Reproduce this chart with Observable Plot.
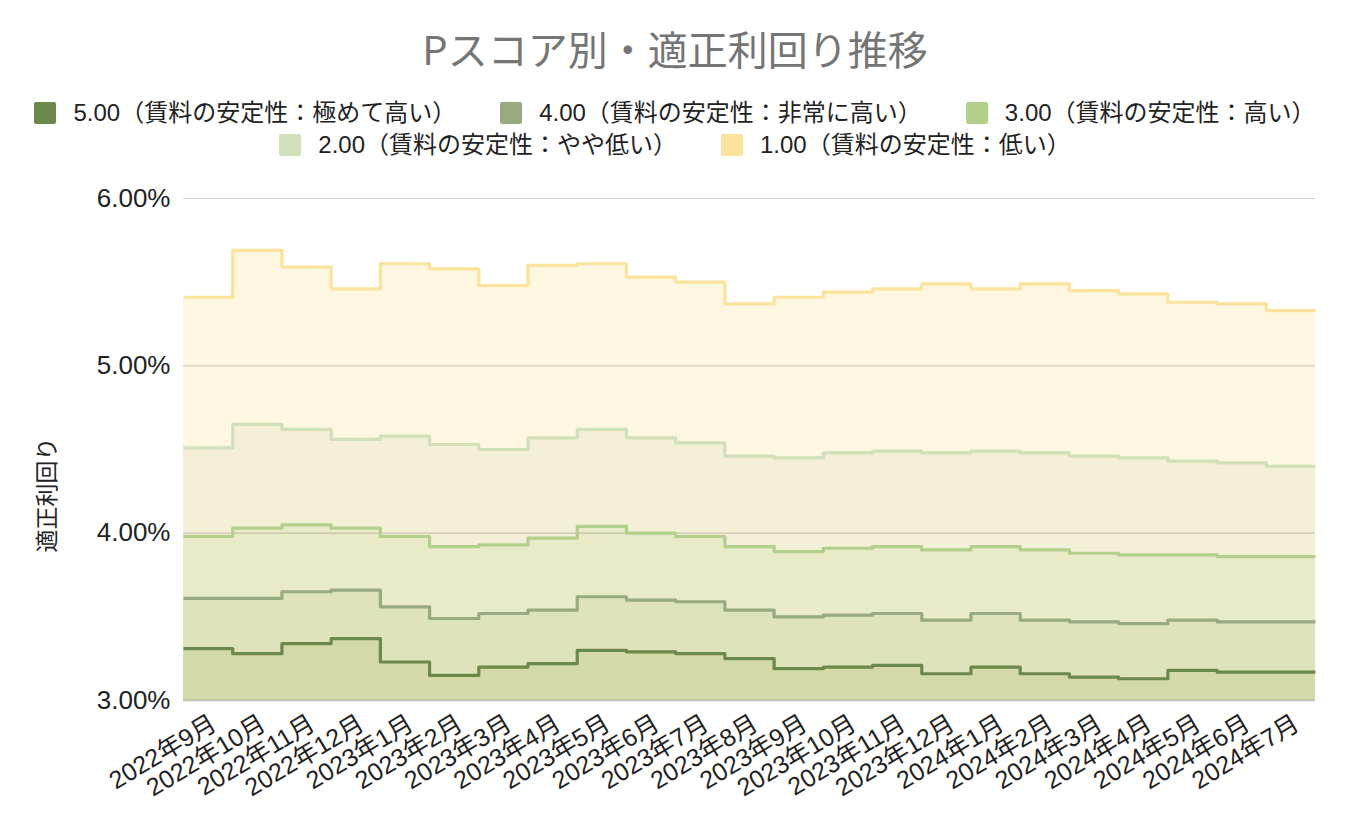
<!DOCTYPE html>
<html>
<head>
<meta charset="utf-8">
<script src="https://cdn.jsdelivr.net/npm/d3@7"></script>
<script src="https://cdn.jsdelivr.net/npm/@observablehq/plot@0.6"></script>
<style>
  html, body { margin: 0; padding: 0; background: #fff; }
  body { width: 1350px; height: 828px; position: relative; overflow: hidden;
         font-family: "Liberation Sans", "Noto Sans CJK JP", sans-serif; }
  #title { position: absolute; top: 22px; left: 0; width: 1350px; text-align: center;
           font-size: 40px; line-height: 52px; color: #757575; font-family: "Noto Sans CJK JP", sans-serif; }
  .row { position: absolute; left: 0; width: 1350px; display: flex; justify-content: center;
         gap: 44px; font-size: 24px; line-height: 30px; color: #222; }
  .item { display: flex; align-items: center; white-space: nowrap; }
  .sw { width: 22px; height: 22px; border-radius: 2px; margin-right: 17px; }
  #chart { position: absolute; left: 0; top: 170px; }
  #ylabel { position: absolute; left: 45px; top: 495px; transform: translate(-50%, -50%) rotate(-90deg);
            font-size: 23px; color: #222; white-space: nowrap; font-family: "Noto Sans CJK JP", sans-serif; }
</style>
</head>
<body>
<div id="title">Pスコア別・適正利回り推移</div>
<div class="row" id="row1" style="top:98px"></div>
<div class="row" id="row2" style="top:130px"></div>
<div id="chart"></div>
<div id="ylabel">適正利回り</div>
<script>
const months = ["2022年9月","2022年10月","2022年11月","2022年12月","2023年1月","2023年2月","2023年3月","2023年4月","2023年5月","2023年6月","2023年7月","2023年8月","2023年9月","2023年10月","2023年11月","2023年12月","2024年1月","2024年2月","2024年3月","2024年4月","2024年5月","2024年6月","2024年7月"];

const names = ["5.00（賃料の安定性：極めて高い）","4.00（賃料の安定性：非常に高い）","3.00（賃料の安定性：高い）","2.00（賃料の安定性：やや低い）","1.00（賃料の安定性：低い）"];

const score5 = [3.31,3.28,3.34,3.37,3.23,3.15,3.20,3.22,3.30,3.29,3.28,3.25,3.19,3.20,3.21,3.16,3.20,3.16,3.14,3.13,3.18,3.17,3.17];
const score4 = [3.61,3.61,3.65,3.66,3.56,3.49,3.52,3.54,3.62,3.60,3.59,3.54,3.50,3.51,3.52,3.48,3.52,3.48,3.47,3.46,3.48,3.47,3.47];
const score3 = [3.98,4.03,4.05,4.03,3.98,3.92,3.93,3.97,4.04,4.00,3.98,3.92,3.89,3.91,3.92,3.90,3.92,3.90,3.88,3.87,3.87,3.86,3.86];
const score2 = [4.51,4.65,4.62,4.56,4.58,4.53,4.50,4.57,4.62,4.57,4.54,4.46,4.45,4.48,4.49,4.48,4.49,4.48,4.46,4.45,4.43,4.42,4.40];
const score1 = [5.41,5.69,5.59,5.46,5.61,5.58,5.48,5.60,5.61,5.53,5.50,5.37,5.41,5.44,5.46,5.49,5.46,5.49,5.45,5.43,5.38,5.37,5.33];

const lineColors = ["#6a8a4b","#97aa80","#b3cf8c","#d0e0b8","#fbe39b"];
const areaColors = ["#d3daa8","#dee3bb","#e9eac7","#f4f0d7","#fdf7e2"];
const yTicks = [3,4,5,6];

const seriesValues = [score5, score4, score3, score2, score1];

// legend
const row1 = document.getElementById("row1");
const row2 = document.getElementById("row2");
names.forEach((n, k) => {
  const it = document.createElement("div");
  it.className = "item";
  it.innerHTML = `<div class="sw" style="background:${lineColors[k]}"></div><span>${n}</span>`;
  (k < 3 ? row1 : row2).appendChild(it);
});

// data: step spans each month band; last value repeated at band end
const data = [];
seriesValues.forEach((vals, k) => {
  vals.forEach((v, i) => data.push({s: k, x: i, y: v}));
  data.push({s: k, x: vals.length, y: vals[vals.length - 1]});
});

const areaMarks = [4,3,2,1,0].map(k =>
  Plot.areaY(data.filter(d => d.s === k), {x: "x", y1: 3, y2: "y", curve: "step-after", fill: areaColors[k]})
);
const lineMarks = [4,3,2,1,0].map(k =>
  Plot.lineY(data.filter(d => d.s === k), {x: "x", y: "y", curve: "step-after", stroke: lineColors[k],
    strokeWidth: 3.2, strokeLinejoin: "round", strokeLinecap: "butt"})
);

const chart = Plot.plot({
  width: 1350,
  height: 658,
  marginLeft: 183,
  marginRight: 35,
  marginTop: 28,
  marginBottom: 128,
  style: {fontFamily: '"Liberation Sans", "Noto Sans CJK JP", sans-serif', background: "transparent", color: "#222"},
  x: {domain: [0, months.length], axis: null},
  y: {domain: [3, 6], axis: null},
  marks: [
    ...areaMarks,
    Plot.ruleY([4,5,6], {stroke: "#000", strokeOpacity: 0.18, strokeWidth: 1.2}),
    Plot.ruleY([3], {stroke: "#000", strokeOpacity: 0.25, strokeWidth: 1.5}),
    ...lineMarks,
    Plot.axisY(yTicks, {tickSize: 0, tickPadding: 13, fontSize: 26, label: null,
      tickFormat: d => d.toFixed(2) + "%", fill: "#222"}),
    Plot.axisX(months.map((m, i) => i + 0.5), {tickSize: 0, tickPadding: 21, dx: 6, fontSize: 25, label: null,
      tickRotate: -31, textAnchor: "end", fill: "#222",
      tickFormat: d => months[Math.floor(d)]})
  ]
});
document.getElementById("chart").appendChild(chart);
</script>
</body>
</html>
